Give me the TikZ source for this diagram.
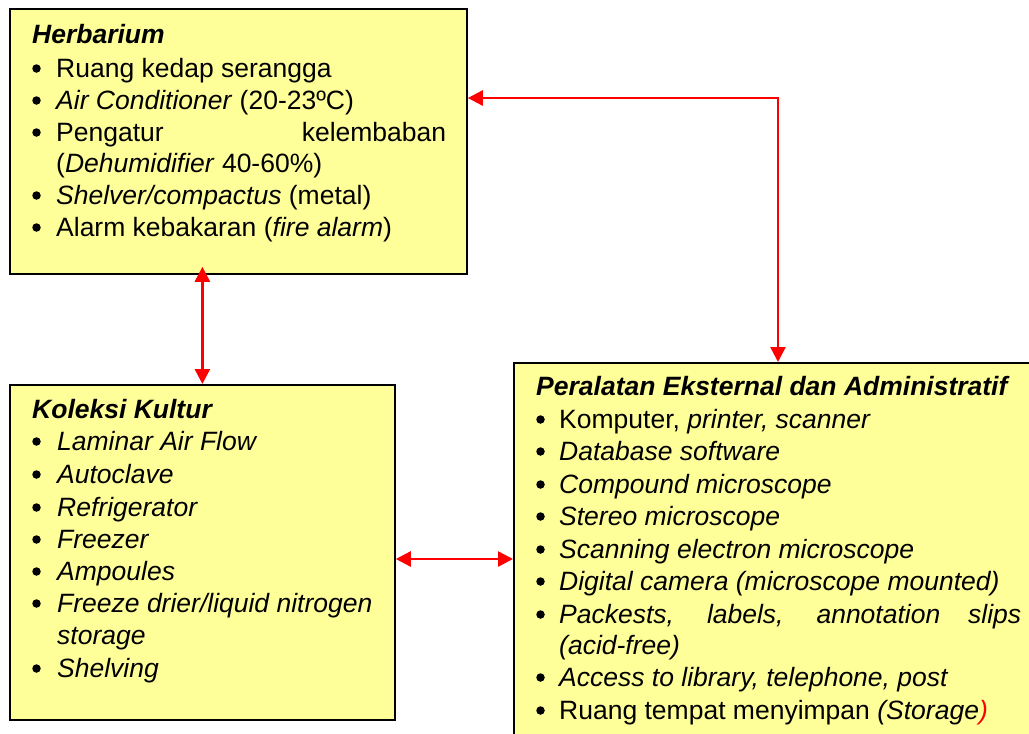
\documentclass[tikz,border=0pt]{standalone}
\usepackage{fontspec}
\setmainfont{Liberation Sans}
\usetikzlibrary{arrows.meta}
\definecolor{boxfill}{HTML}{FFFF99}
\definecolor{arrred}{HTML}{FF0000}
\begin{document}
\begin{tikzpicture}[x=1pt,y=-1pt,
  box/.style={draw=black, line width=1.8pt, fill=boxfill, anchor=north west, inner sep=0},
  txt/.style={anchor=base west, inner sep=0, font=\fontsize{26.5}{32}\selectfont},
  ttl/.style={txt, font=\fontsize{26.5}{32}\selectfont\bfseries\itshape},
  bul/.style={circle, fill=black, inner sep=0, minimum size=8.5pt},
  link/.style={draw=arrred, line width=2.6pt, {Triangle[length=15pt,width=15pt]}-{Triangle[length=15pt,width=15pt]}}
]
\useasboundingbox (0,0) rectangle (1029,734);
\clip (0,0) rectangle (1029,734);
\fill[white] (0,0) rectangle (1029,734);

% boxes
\node[box, minimum width=457pt, minimum height=265pt] (herb) at (9,8) {};
\node[box, minimum width=385pt, minimum height=335pt] (kol) at (9,384) {};
\node[box, minimum width=540pt, minimum height=400pt] (peral) at (513,362) {};

% Herbarium
\node[ttl] (h0) at (32,43) {Herbarium};
\foreach \y [count=\i] in {77,109,141,204,236} \node[bul] (hb\i) at (36.5,\y-8.5) {};
\node[txt] (h1) at (56,77) {Ruang kedap serangga};
\node[txt] (h2) at (56,109) {\textit{Air Conditioner} (20-23ºC)};
\node[txt] (h3) at (56,141) {\makebox[390pt][l]{Pengatur\hfill kelembaban}};
\node[txt] (h4) at (56,172) {(\textit{Dehumidifier} 40-60\%)};
\node[txt] (h5) at (56,204) {\textit{Shelver/compactus} (metal)};
\node[txt] (h6) at (56,236) {Alarm kebakaran (\textit{fire alarm})};

% Koleksi Kultur
\node[ttl] (k0) at (32,418) {Koleksi Kultur};
\foreach \y [count=\i] in {450,483,516,548,580,612,677} \node[bul] (kb\i) at (36.5,\y-8.5) {};
\node[txt] (k1) at (57,450) {\itshape Laminar Air Flow};
\node[txt] (k2) at (57,483) {\itshape Autoclave};
\node[txt] (k3) at (57,516) {\itshape Refrigerator};
\node[txt] (k4) at (57,548) {\itshape Freezer};
\node[txt] (k5) at (57,580) {\itshape Ampoules};
\node[txt] (k6) at (57,612) {\itshape Freeze drier/liquid nitrogen};
\node[txt] (k7) at (57,644) {\itshape storage};
\node[txt] (k8) at (57,677) {\itshape Shelving};

% Peralatan
\node[ttl] (p0) at (536,395) {Peralatan Eksternal dan Administratif};
\foreach \y [count=\i] in {428,460,493,525,558,590,623,686,719} \node[bul] (pb\i) at (540.5,\y-8.5) {};
\node[txt] (p1) at (559,428) {Komputer, \textit{printer, scanner}};
\node[txt] (p2) at (559,460) {\itshape Database software};
\node[txt] (p3) at (559,493) {\itshape Compound microscope};
\node[txt] (p4) at (559,525) {\itshape Stereo microscope};
\node[txt] (p5) at (559,558) {\itshape Scanning electron microscope};
\node[txt] (p6) at (559,590) {\itshape Digital camera (microscope mounted)};
\node[txt] (p7) at (559,623) {\itshape\makebox[462pt][s]{Packests, labels, annotation slips}};
\node[txt] (p8) at (559,654) {\itshape (acid-free)};
\node[txt] (p9) at (559,686) {\itshape Access to library, telephone, post};
\node[txt] (p10) at (559,719) {Ruang tempat menyimpan \textit{(Storage\textcolor{arrred}{)}}};

% connectors
\coordinate (c1) at (778,98);
\coordinate (c3) at (0,559);
\draw[link] (herb.east |- c1) -- (c1) -- (peral.north -| c1);
\draw[link, shorten <=-8pt] (kol.north |- herb.south) -- (kol.north);
\draw[link] (kol.east |- c3) -- (peral.west |- c3);
\end{tikzpicture}
\end{document}
